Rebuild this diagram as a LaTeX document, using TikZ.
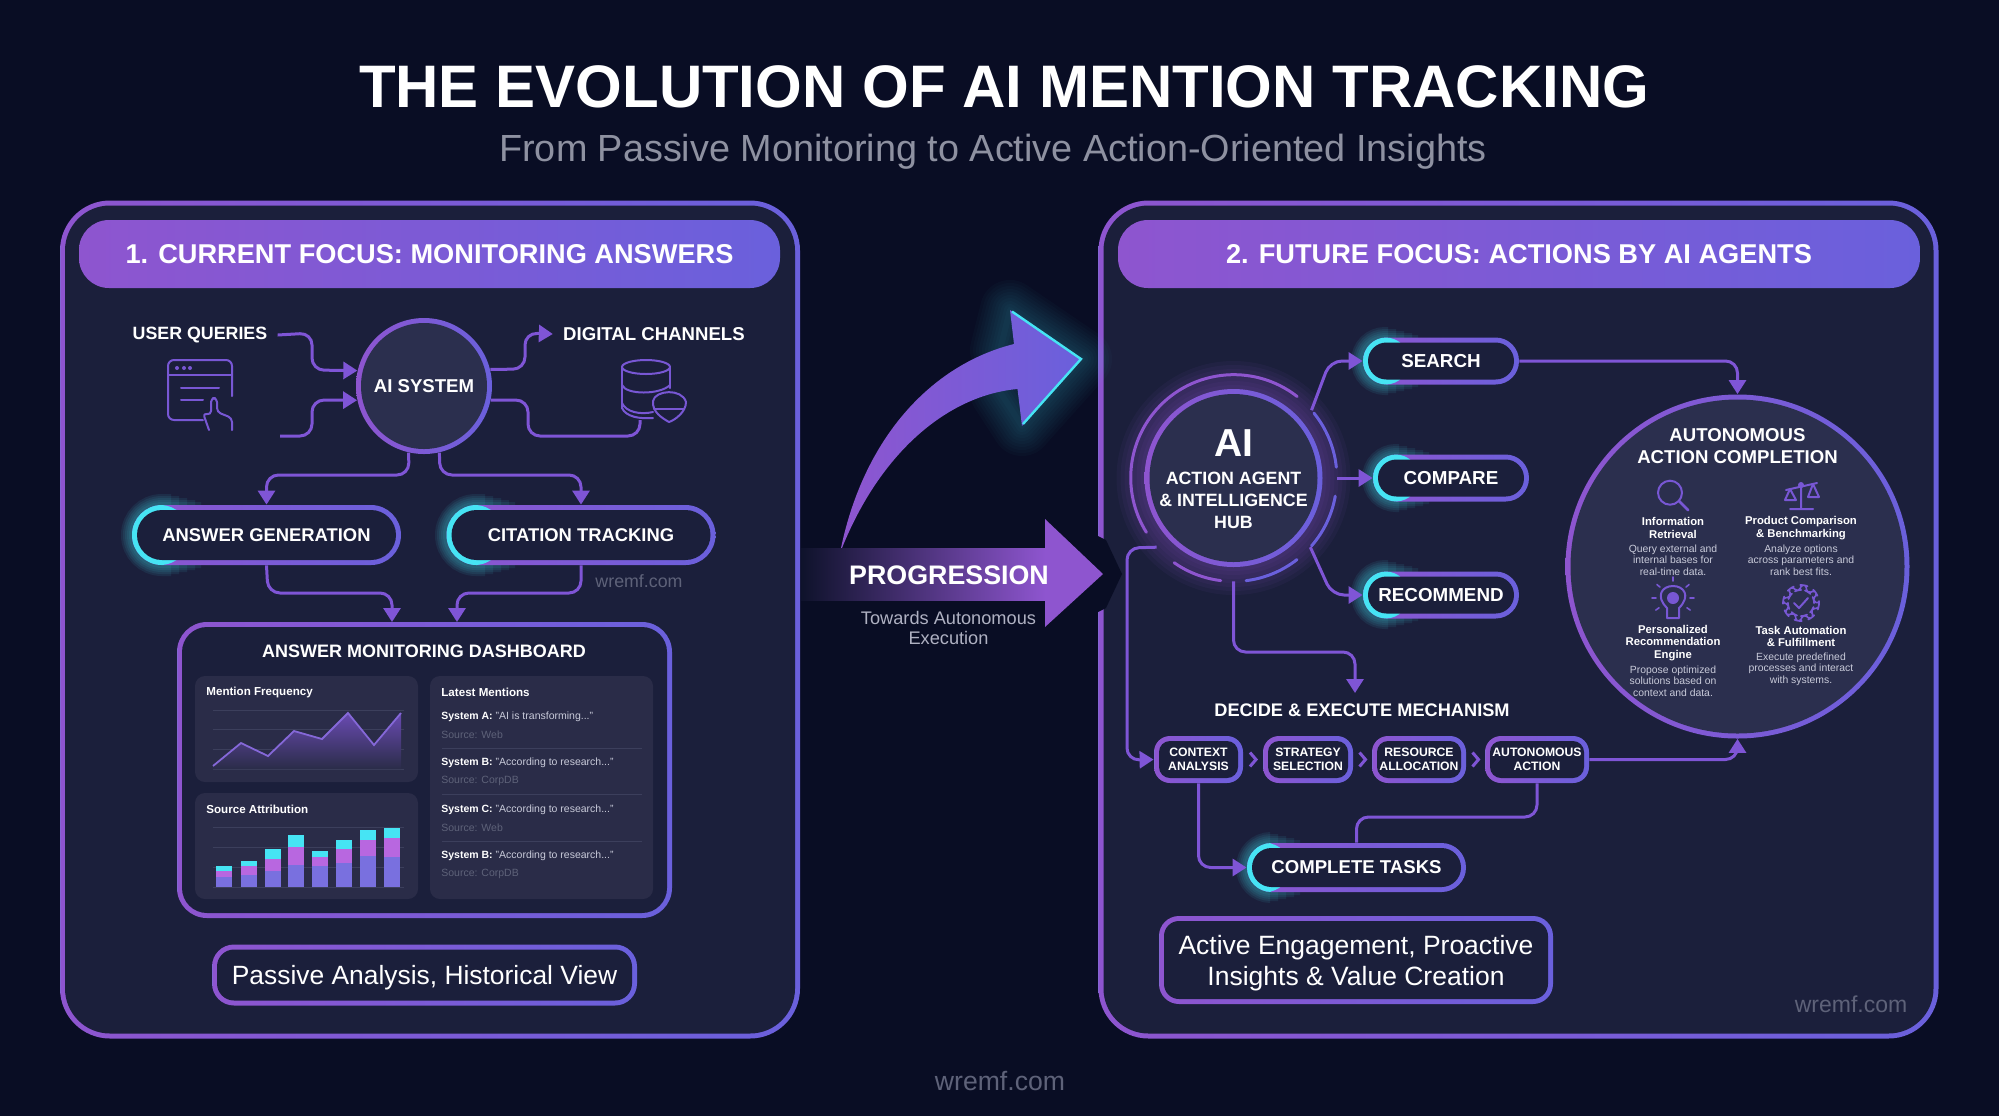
\documentclass[tikz,border=0pt]{standalone}
\usepackage{fontspec}
\setmainfont{Liberation Sans}
\usetikzlibrary{arrows.meta,calc,positioning}

\definecolor{bgdark}{HTML}{090D24}
\definecolor{panelbg}{HTML}{1B1F3B}
\definecolor{cardbg}{HTML}{2A2C48}
\definecolor{hubbg}{HTML}{2B2F4E}
\definecolor{bdleft}{HTML}{8E55CF}
\definecolor{bdright}{HTML}{6A60DC}
\definecolor{flowcol}{HTML}{7F55D6}
\definecolor{cyanedge}{HTML}{46E4F4}
\definecolor{iconcol}{HTML}{7857D4}
\definecolor{softgray}{HTML}{5E6279}
\definecolor{gridcol}{HTML}{3C3F5C}
\definecolor{sublabel}{HTML}{C9CBDA}
\definecolor{barmid}{HTML}{B867E0}

\newcommand{\fsz}[2]{\fontsize{#1}{#2}\selectfont}
\newcommand{\tdots}{.{}.{}.}

% glow behind the cyan end of a pill: left x, top y, bottom y, right x, radius
\newcommand{\cyanglow}[5]{
  \foreach \w/\e in {3/10,5/4,7/-4,9/-12,11/-20} {
    \begin{scope}
      \clip (#1-30,#2-30) rectangle (#4+\e,#3+30);
      \draw[cyanedge, opacity=.08, line width=\w pt, rounded corners=#5] (#1,#2) rectangle (#4+60,#3);
    \end{scope}
  }
}

\tikzset{
  gframe/.style n args={3}{shape=rectangle, inner sep=0pt, left color=bdleft, right color=bdright, rounded corners=#1,
    path picture={
      \fill[cyanedge] (path picture bounding box.south west) rectangle ([xshift=#3]path picture bounding box.north west);
      \fill[#2, rounded corners={#1-2.5pt}] ([shift={(2.5pt,2.5pt)}]path picture bounding box.south west)
        rectangle ([shift={(-2.5pt,-2.5pt)}]path picture bounding box.north east);
    }},
  gcircle/.style n args={2}{shape=circle, inner sep=0pt, minimum size=2*#1, left color=bdleft, right color=bdright,
    path picture={\fill[#2] (path picture bounding box.center) circle ({#1-2.5pt});}},
  header/.style={shape=rectangle, left color=bdleft, right color=bdright, rounded corners=15pt, minimum height=34pt,
    text=white, font=\fsz{13.6}{16}\bfseries},
  pill/.style 2 args={gframe={#2}{panelbg}{#1}, text=white, font=\fsz{9.2}{11}\bfseries},
  stepbox/.style={gframe={8pt}{panelbg}{0pt}, minimum height=23.5pt, text=white, align=center, font=\fsz{6.1}{7}\bfseries},
  card/.style={shape=rectangle, fill=cardbg, rounded corners=5pt, inner sep=0pt},
  toplabel/.style={text=white, inner sep=5pt, font=\fsz{9.3}{11}\bfseries},
  smalltitle/.style={text=white, anchor=west, inner sep=0pt, font=\fsz{5.8}{7}\bfseries},
  rowtext/.style={text=sublabel, anchor=west, inner sep=0pt, font=\fsz{5.25}{6}},
  srctext/.style={text=softgray, anchor=west, inner sep=0pt, font=\fsz{5.25}{6}},
  tooltitle/.style={text=white, align=center, inner sep=0pt, font=\fsz{5.65}{6.1}\bfseries},
  tooltext/.style={text=sublabel, align=center, inner sep=0pt, font=\fsz{5.2}{5.65}},
  wmark/.style={text=softgray, inner sep=0pt},
  flowline/.style={draw=flowcol, line width=1.5pt, rounded corners=6pt},
  flow/.style={flowline, -{Triangle[length=7pt,width=8.5pt]}},
  chevtip/.style={draw=flowcol, line width=1.5pt},
  icon/.style={draw=iconcol, line width=1pt, line cap=round, line join=round},
  ring/.style={line width=1.5pt, line cap=round}
}

\begin{document}
\begin{tikzpicture}[x=0.5pt,y=-0.5pt]
  \useasboundingbox (0,0) rectangle (1999,1116);
  \fill[bgdark] (0,0) rectangle (1999,1116);

  % Titel
  \node[text=white, font=\fsz{30}{34}\bfseries] (title) at (1004,87) {THE EVOLUTION OF AI MENTION TRACKING};
  \node[text=softgray!70!white, font=\fsz{18.9}{22}] (subtitle) at (993,152) {From Passive Monitoring to Active Action-Oriented Insights};
  \node[wmark, font=\fsz{13.3}{15}] (markbottom) at (1000,1081) {wremf.com};

  % Panels
  \node[gframe={25pt}{panelbg}{0pt}, minimum width=370pt, minimum height=419pt] (leftpanel) at (430,619.5) {};
  \node[gframe={25pt}{panelbg}{0pt}, minimum width=420pt, minimum height=419pt] (rightpanel) at (1518.5,619.5) {};
  \node[header, minimum width=350.5pt] (lefthead) at (429.5,254) {1. CURRENT FOCUS: MONITORING ANSWERS};
  \node[header, minimum width=401pt] (righthead) at (1519,254) {2. FUTURE FOCUS: ACTIONS BY AI AGENTS};

  % Links: Queries, System, Channels
  \node[toplabel, font=\fsz{8.9}{11}\bfseries] (userq) at (200,335) {USER QUERIES};
  \node[toplabel] (digch) at (654,334) {DIGITAL CHANNELS};
  \node[gcircle={34pt}{hubbg}, text=white, font=\fsz{9.3}{11}\bfseries] (aisys) at (424,386) {AI SYSTEM};
  \coordinate (userstub) at (280,436);
  \coordinate (dbbase) at (640,420);
  \draw[flow] (userq.east) -- (312,333) -- (312,370) -- (aisys.167);
  \draw[flow] (userstub) -- (312,436) -- (312,400) -- (aisys.192);
  \draw[flow] (aisys.14) -- (525,369) -- (525,333) -- (digch.west);
  \draw[flowline] (aisys.-12) -- (528,400) -- (528,436) -- (640,436) -- (dbbase);

  % browser icon
  \draw[icon, rounded corners=3pt] (203,420) -- (168,420) -- (168,360) -- (232,360) -- (232,396);
  \draw[icon] (168,375) -- (232,375);
  \draw[icon] (181,388) -- (219,388);
  \draw[icon] (181,400) -- (203,400);
  \foreach \d in {177,184,190} \fill[iconcol] (\d,368) circle (1pt);
  \draw[icon, rounded corners=2pt] (209,430) -- (203,413) -- (211,415) -- (211,398) -- (217,398) -- (217,412) -- (232,418) -- (232,430);

  % database icon
  \draw[icon] (646,367) ellipse (12pt and 3.5pt);
  \draw[icon] (622,367) -- (622,408);
  \draw[icon] (670,367) -- (670,388);
  \draw[icon] (622,385) .. controls (626,395) and (660,395) .. (670,385);
  \draw[icon] (622,403) .. controls (626,412) and (640,415) .. (653,412);
  \draw[icon] (622,408) .. controls (626,417) and (640,419) .. (653,418);
  \draw[icon, fill=panelbg] (653,401) .. controls (655,390) and (682,388) .. (686,402) .. controls (686,412) and (675,420) .. (669,422) .. controls (662,418) and (652,412) .. (653,401);
  \draw[icon] (654,409) -- (684,409);

  % Pills
  \cyanglow{132}{505}{565}{191}{15pt}
  \cyanglow{446}{505}{565}{505}{15pt}
  \node[pill={29pt}{15pt}, minimum width=134.5pt, minimum height=30pt] (ansgen) at (266.5,535) {ANSWER GENERATION};
  \node[pill={29pt}{15pt}, minimum width=134.5pt, minimum height=30pt] (cittrack) at (581,535) {CITATION TRACKING};
  \draw[flow] (aisys.257) -- (409,475) -| (ansgen.north);
  \draw[flow] (aisys.283) -- (440,475) -| (cittrack.north);
  \node[wmark, font=\fsz{8.9}{10}] (markleft) at (639,581) {wremf.com};

  % Dashboard
  \node[gframe={15pt}{panelbg}{0pt}, minimum width=247.5pt, minimum height=148pt] (dash) at (424.5,770) {};
  \coordinate (dashinl) at (392,622);
  \coordinate (dashinr) at (457,622);
  \draw[flow] (ansgen.south) -- (268,593) -| (dashinl);
  \draw[flow] (cittrack.south) -- (581,593) -| (dashinr);
  \node[text=white, font=\fsz{9}{11}\bfseries] (dashtitle) at (424,651) {ANSWER MONITORING DASHBOARD};
  \node[card, minimum width=111.5pt, minimum height=53pt] (freqcard) at (306.5,729) {};
  \node[card, minimum width=111.5pt, minimum height=53pt] (srccard) at (306.5,846) {};
  \node[card, minimum width=111.5pt, minimum height=111.5pt] (latestcard) at (541.5,787.5) {};
  \node[smalltitle] (freqtitle) at (206,692.5) {Mention Frequency};
  \node[smalltitle] (srctitle) at (206,809) {Source Attribution};
  \node[smalltitle] (latesttitle) at (441,692) {Latest Mentions};

  % Linienchart
  \foreach \y in {710,729,749,769} \draw[gridcol, line width=.5pt] (213,\y) -- (404,\y);
  \shade[top color=flowcol!75!cardbg, bottom color=cardbg] (213,766) -- (241,743) -- (268,756) -- (294,731) -- (322,739) -- (348,713) -- (374,745) -- (401,713) -- (401,769) -- (213,769) -- cycle;
  \draw[draw=iconcol!90!white, line width=.9pt] (213,766) -- (241,743) -- (268,756) -- (294,731) -- (322,739) -- (348,713) -- (374,745) -- (401,713);

  % Balken
  \foreach \y in {827,847,867,887} \draw[gridcol, line width=.5pt] (213,\y) -- (404,\y);
  \foreach \x/\c/\m/\b in {216/866/871/877, 241/861/866/875, 265/849/859/871, 288/835/847/865,
                           312/851/857/866, 336/840/849/863, 360/830/840/856, 384/828/838/857} {
    \fill[cyanedge] (\x,\c) rectangle (\x+15.6,\m);
    \fill[barmid] (\x,\m) rectangle (\x+15.6,\b);
    \fill[bdright!90!white] (\x,\b) rectangle (\x+15.6,887);
  }

  % Latest Mentions
  \foreach \n/\who/\quo/\src/\y in {1/System A/AI is transforming\tdots/Web/716.5, 2/System B/According to research\tdots/CorpDB/762.5,
                                    3/System C/According to research\tdots/Web/809.5, 4/System B/According to research\tdots/CorpDB/855.5} {
    \node[rowtext] (row\n) at (441,\y) {\textbf{\textcolor{white}{\who:}} "\quo"};
    \node[srctext] (rowsrc\n) at (441,\y+18.5) {Source: \src};
  }
  \foreach \y in {748,794,841} \draw[gridcol, line width=.5pt] (442,\y) -- (642,\y);

  \node[gframe={11pt}{panelbg}{0pt}, minimum width=212.5pt, minimum height=30.5pt] (passive) at (424.5,975) {};
  \node[text=white, font=\fsz{13.2}{15}] (passivetext) at (424.5,977.5) {Passive Analysis, Historical View};

  % Mitte: Pfeile
  \fill[bgdark] (1098,536) -- (1106,540) -- (1122,574) -- (1106,608) -- (1098,612) -- cycle;
  \foreach \w in {3,6,9,12,15,18,21,24,27,30}
    \draw[cyanedge, opacity=.025, line width=\w pt, line join=round, line cap=round] (1000,350) -- (1010,310) -- (1082,359) -- (1022,426) -- (1000,392);
  \shade[left color=bdleft, right color=bdright] (840,553) .. controls (862,440) and (930,365) .. (1014,344) -- (1010,310) -- (1082,359) -- (1022,426) -- (1017.5,389) .. controls (950,395) and (880,450) .. (840,553) -- cycle;
  \draw[cyanedge, line width=1.2pt, line join=miter] (1012,311.5) -- (1081,359) -- (1023,424);
  \shade[left color=bgdark!70!panelbg, middle color=flowcol!70!bgdark, right color=bdleft] (801,548) rectangle (1045,600);
  \fill[bdleft] (1045,519) -- (1103,574) -- (1045,627) -- cycle;
  \node[text=white, font=\fsz{13.4}{16}\bfseries] (progtext) at (949,575) {PROGRESSION};
  \node[text=sublabel!85!panelbg, align=center, font=\fsz{9.1}{10}] (progsub) at (948.5,628) {Towards Autonomous\\Execution};

  % AI Hub
  \foreach \w in {4,8,12,16,20,24,28}
    \draw[bdleft, opacity=.06, line width=\w pt] (1233.5,478) circle (44.5pt);
  \node[gcircle={44.5pt}{hubbg}] (hub) at (1233.5,478) {};
  \node[circle, minimum size=103pt, inner sep=0pt] (hubring) at (1233.5,478) {};
  \foreach \a/\b/\c in {52/212/bdleft, 235/263/bdleft, 277/308/bdright, -41/-10/bdright, 6/39/bdright}
    \draw[ring, \c] (hubring.\a) arc[start angle=\a, end angle=\b, radius=51.5pt];
  \node[text=white, font=\fsz{19.5}{22}\bfseries] (hubai) at (1233.5,443) {AI};
  \node[text=white, align=center, font=\fsz{8.9}{11}\bfseries] (hubtext) at (1233.5,500) {ACTION AGENT\\\& INTELLIGENCE\\HUB};

  % Aktionen
  \cyanglow{1362}{338}{384}{1408}{11.5pt}
  \cyanglow{1373}{455}{501}{1419}{11.5pt}
  \cyanglow{1362}{571}{618}{1408}{11.5pt}
  \node[pill={23pt}{11.7pt}, minimum width=78pt, minimum height=23.5pt, font=\fsz{9.4}{11}\bfseries] (search) at (1441,361) {SEARCH};
  \node[pill={23pt}{11.7pt}, minimum width=78pt, minimum height=23.5pt, font=\fsz{9.4}{11}\bfseries] (compare) at (1451,478) {COMPARE};
  \node[pill={23pt}{11.7pt}, minimum width=78pt, minimum height=23.5pt, font=\fsz{9.4}{11}\bfseries] (recommend) at (1441,595) {RECOMMEND};
  \draw[flow] (hubring.41) -- (1330,361) -- (search.west);
  \draw[flow] (hubring.0) -- (compare.west);
  \draw[flow] (hubring.-42) -- (1332,595) -- (recommend.west);

  % Autonomous Action Completion
  \node[gcircle={86pt}{hubbg}] (autocircle) at (1737.5,566.5) {};
  \draw[flow] (search.east) -| (autocircle.north);
  \node[text=white, align=center, font=\fsz{9.3}{11}\bfseries] (autotitle) at (1737.5,446) {AUTONOMOUS\\ACTION COMPLETION};
  \node[tooltitle] (toolinfo) at (1673,528) {Information\\Retrieval};
  \node[tooltext] (toolinfotext) at (1673,560) {Query external and\\internal bases for\\real-time data.};
  \node[tooltitle] (toolprod) at (1801,528) {Product Comparison\\\& Benchmarking};
  \node[tooltext] (toolprodtext) at (1801,560) {Analyze options\\across parameters and\\rank best fits.};
  \node[tooltitle] (toolpers) at (1673,643) {Personalized\\Recommendation\\Engine};
  \node[tooltext] (toolperstext) at (1673,681) {Propose optimized\\solutions based on\\context and data.};
  \node[tooltitle] (tooltask) at (1801,636.5) {Task Automation\\\& Fulfillment};
  \node[tooltext] (tooltasktext) at (1801,669) {Execute predefined\\processes and interact\\with systems.};

  % Lupe
  \draw[icon] (1670,492.7) circle (6pt);
  \draw[icon, line width=1.4pt] (1679,501) -- (1688,510);
  % Waage
  \draw[icon] (1801,486) -- (1801,509) (1790,509) -- (1813,509) (1786,490) -- (1817,483);
  \draw[icon] (1790,489) -- (1785,500) -- (1796,500) -- cycle;
  \draw[icon] (1813,484) -- (1808,497) -- (1819,497) -- cycle;
  \fill[iconcol] (1801,485) circle (1.5pt);
  % Gluehbirne
  \draw[icon] (1667,608) .. controls (1655,596) and (1662,586) .. (1673,586) .. controls (1684,586) and (1691,596) .. (1679,608) -- (1679,618) -- (1667,618) -- cycle;
  \fill[iconcol] (1673,598) circle (3pt);
  \foreach \a in {0,40,90,140,180,215,325}
    \draw[icon, line width=.8pt] ($(1673,598)+(\a:8.5pt)$) -- ($(1673,598)+(\a:10.5pt)$);
  % Zahnrad
  \draw[icon, line width=.8pt, rounded corners=1pt] plot[domain=0:360, samples=97] ({1801+(15.5+2.5*sign(sin(8*\x+10)))*cos(\x)}, {603+(15.5+2.5*sign(sin(8*\x+10)))*sin(\x)}) -- cycle;
  \draw[icon] (1794,603) -- (1799,608) -- (1808,598);

  % Decide & Execute
  \coordinate (decidetop) at (1355,693);
  \draw[flow] (hubring.270) -- (1233.5,652) -| (decidetop);
  \node[text=white, font=\fsz{9.1}{11}\bfseries] (decide) at (1362,710) {DECIDE \& EXECUTE MECHANISM};
  \node[stepbox, minimum width=44.5pt] (ctxbox) at (1198.5,759.5) {CONTEXT\\ANALYSIS};
  \node[stepbox, minimum width=45pt] (stratbox) at (1308,759.5) {STRATEGY\\SELECTION};
  \node[stepbox, minimum width=47pt] (resbox) at (1419,759.5) {RESOURCE\\ALLOCATION};
  \node[stepbox, minimum width=52pt] (autobox) at (1537,759.5) {AUTONOMOUS\\ACTION};
  \foreach \p/\q in {ctxbox/stratbox, stratbox/resbox, resbox/autobox}
    \draw[chevtip] ($(\p.east)!.5!(\q.west)+(-3,-7)$) -- ++(6,7) -- ++(-6,7);

  \cyanglow{1247}{843}{892}{1290}{12pt}
  \node[pill={21.5pt}{12.2pt}, minimum width=109.5pt, minimum height=24.5pt, font=\fsz{9.3}{12}\bfseries] (complete) at (1356.5,867.5) {COMPLETE TASKS};
  \draw[flow] (hubring.222) -- (1127,548) -- (1127,760) -- (ctxbox.west);
  \draw[flow] (ctxbox.south) |- (complete.west);
  \draw[flowline] (autobox.south) -- (1537,817) -| (complete.north);
  \draw[flow] (autobox.east) -| (autocircle.south);

  \node[gframe={10pt}{panelbg}{0pt}, minimum width=197pt, minimum height=44pt] (active) at (1356,960) {};
  \node[text=white, align=center, font=\fsz{13.25}{15.2}] (activetext) at (1356,963) {Active Engagement, Proactive\\Insights \& Value Creation};
  \node[wmark, font=\fsz{11.5}{13}] (markright) at (1851,1004) {wremf.com};
\end{tikzpicture}
\end{document}
